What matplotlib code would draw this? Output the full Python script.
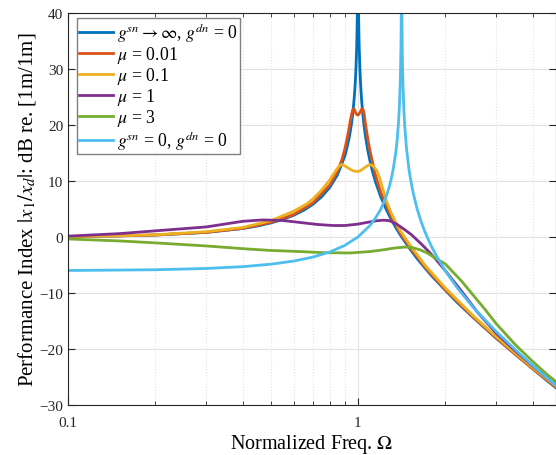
import matplotlib
matplotlib.use('Agg')
import matplotlib.pyplot as plt
from matplotlib.ticker import LogLocator, NullFormatter

plt.rcParams['font.family'] = ['Liberation Serif', 'DejaVu Serif']
plt.rcParams['mathtext.fontset'] = 'stix'

# readings (normalized freq, dB)
w_inf = [0.1, 0.15, 0.2, 0.3, 0.4, 0.45, 0.5, 0.55, 0.6, 0.65, 0.7, 0.75, 0.8, 0.85, 0.9, 0.91,
         0.93, 0.94, 0.95, 0.96, 0.97, 0.975, 0.98, 0.985, 0.99, 0.9925, 0.995, 0.999, 1.001,
         1.005, 1.0075, 1.01, 1.015, 1.02, 1.025, 1.03, 1.04, 1.05, 1.06, 1.08, 1.1, 1.12, 1.15,
         1.2, 1.25, 1.3, 1.35, 1.4, 1.5, 1.6, 1.7, 1.8, 2.0, 2.2, 2.5, 3.0, 3.5, 4.0, 4.5, 5.0]
db_inf = [0.09, 0.2, 0.35, 0.82, 1.51, 1.96, 2.5, 3.13, 3.88, 4.77, 5.85, 7.2, 8.87, 11.1, 14.4, 15.3,
          17.4, 18.7, 20.2, 22.1, 24.6, 26.1, 28.0, 30.5, 34.0, 36.5, 40.0, 54.0, 54.0,
          40.0, 36.4, 33.9, 30.4, 27.9, 25.9, 24.3, 21.8, 19.8, 18.2, 15.6, 13.6, 11.9, 9.8,
          7.1, 5.0, 3.2, 1.7, 0.35, -1.9, -3.86, -5.5, -7.0, -9.5, -11.7, -14.4, -18.1, -21.0,
          -23.5, -25.7, -27.6]

w_001 = [0.1, 0.15, 0.2, 0.3, 0.4, 0.5, 0.6, 0.7, 0.8, 0.85, 0.88, 0.9, 0.92, 0.93, 0.94, 0.945,
         0.95, 0.955, 0.96, 0.965, 0.97, 0.975, 0.98, 0.99, 0.995, 1.0, 1.005, 1.01, 1.02, 1.025,
         1.03, 1.035, 1.04, 1.045, 1.05, 1.055, 1.06, 1.07, 1.085, 1.1, 1.15, 1.2, 1.3, 1.4, 1.5,
         1.7, 2.0, 2.5, 3.0, 3.5, 4.0, 4.5, 5.0]
db_001 = [0.09, 0.2, 0.36, 0.84, 1.55, 2.6, 4.0, 6.1, 9.3, 11.7, 13.8, 15.6, 17.9, 19.2, 20.6, 21.2,
          21.8, 22.3, 22.7, 22.9, 22.85, 22.6, 22.3, 21.9, 21.8, 21.8, 21.85, 22.0, 22.4, 22.6,
          22.85, 22.9, 22.8, 22.5, 22.0, 21.2, 20.4, 19.0, 17.1, 15.4, 11.0, 7.9, 3.8, 0.7, -1.6,
          -5.3, -9.4, -14.3, -18.0, -21.0, -23.5, -25.6, -27.5]

w_01 = [0.1, 0.15, 0.2, 0.3, 0.4, 0.5, 0.6, 0.666, 0.7, 0.75, 0.8, 0.84, 0.86, 0.874, 0.885, 0.9,
        0.92, 0.94, 0.96, 0.99, 1.01, 1.03, 1.05, 1.07, 1.09, 1.106, 1.12, 1.14, 1.16, 1.19, 1.22,
        1.256, 1.3, 1.35, 1.4, 1.5, 1.7, 2.0, 2.5, 3.0, 3.5, 4.0, 4.5, 5.0]
db_01 = [0.1, 0.22, 0.4, 0.95, 1.7, 2.9, 4.6, 5.9, 6.8, 8.4, 10.2, 11.9, 12.6, 12.9, 12.9, 12.7,
         12.4, 12.1, 11.85, 11.7, 11.75, 12.0, 12.3, 12.6, 12.85, 12.9, 12.8, 12.4, 11.9, 10.4, 8.5,
         6.3, 4.4, 2.6, 1.1, -1.2, -5.0, -9.1, -14.1, -17.8, -20.8, -23.3, -25.4, -27.3]

w_1 = [0.1, 0.15, 0.2, 0.3, 0.4, 0.47, 0.55, 0.63, 0.72, 0.82, 0.9, 1.0, 1.1, 1.16, 1.22, 1.27,
       1.3, 1.36, 1.45, 1.53, 1.65, 1.74, 1.85, 2.0, 2.27, 2.59, 3.0, 3.5, 4.0, 4.5, 5.0]
db_1 = [0.15, 0.6, 1.1, 1.8, 2.8, 3.05, 2.95, 2.6, 2.25, 2.05, 2.05, 2.3, 2.7, 2.9, 3.0, 2.95,
        2.8, 2.3, 1.3, 0.4, -1.2, -2.4, -3.9, -6.0, -9.6, -13.5, -17.2, -20.4, -23.0, -25.2, -27.1]

w_3 = [0.1, 0.15, 0.2, 0.3, 0.418, 0.5, 0.631, 0.76, 0.94, 1.1, 1.22, 1.34, 1.45, 1.53, 1.64,
       1.74, 1.85, 2.0, 2.27, 2.75, 3.0, 3.5, 4.0, 4.5, 5.0]
db_3 = [-0.35, -0.7, -1.05, -1.6, -2.15, -2.4, -2.6, -2.8, -2.85, -2.6, -2.3, -1.96, -1.8, -1.85, -2.3,
        -2.9, -3.8, -4.8, -7.8, -13.0, -15.5, -19.3, -22.2, -24.6, -26.5]

w_0 = [0.1, 0.2, 0.3, 0.4, 0.5, 0.6, 0.7, 0.8, 0.9, 1.0, 1.1, 1.15, 1.2, 1.25, 1.28, 1.3, 1.32,
       1.35, 1.365, 1.38, 1.39, 1.4, 1.407, 1.4105, 1.4142, 1.418, 1.422, 1.425, 1.43, 1.44, 1.45,
       1.47, 1.5, 1.52, 1.55, 1.6, 1.65, 1.7, 1.75, 1.8, 1.9, 2.0, 2.2, 2.5, 3.0, 3.5, 4.0, 4.5, 5.0]
db_0 = [-5.98, -5.85, -5.62, -5.3, -4.86, -4.3, -3.58, -2.67, -1.51, 0.0, 2.05, 3.4, 5.0, 7.2, 8.8,
        10.2, 11.8, 15.0, 17.3, 20.4, 23.4, 28.0, 33.8, 39.6, 60.0, 39.4, 33.1, 30.3, 27.0, 22.7,
        19.8, 15.9, 12.0, 10.2, 7.9, 5.0, 2.8, 1.0, -0.5, -1.87, -4.1, -6.02, -9.07, -12.6, -16.9,
        -20.2, -22.9, -25.2, -27.2]

labels = [r'$g^{sn} \rightarrow \infty$, $g^{dn}$ = 0', r'$\mu$ = 0.01', r'$\mu$ = 0.1',
          r'$\mu$ = 1', r'$\mu$ = 3', r'$g^{sn}$ = 0, $g^{dn}$ = 0']
colors = ['#0072BD', '#D95319', '#EDB120', '#7E2F8E', '#77AC30', '#4DBEEE']

fig = plt.figure(figsize=(5.56, 4.56), dpi=100)
ax = fig.add_axes([68/556, 50/456, 488/556, 392/456])

series = [(w_inf, db_inf), (w_001, db_001), (w_01, db_01), (w_1, db_1), (w_3, db_3), (w_0, db_0)]
for (w, db), c, lab in zip(series, colors, labels):
    ax.plot(w, db, color=c, lw=2, label=lab)

ax.set_xscale('log')
ax.set_xlim(0.1, 4.82)
ax.set_ylim(-30, 40)
ax.set_xticks([0.1, 1])
ax.set_xticklabels(['0.1', '1'])
ax.xaxis.set_minor_locator(LogLocator(base=10, subs=range(2, 10)))
ax.xaxis.set_minor_formatter(NullFormatter())
ax.set_yticks(range(-30, 41, 10))

ax.grid(which='major', color='#e3e3e3', lw=0.8)
ax.grid(which='minor', axis='x', color='#e3e3e3', lw=0.8, ls=':')
ax.set_axisbelow(True)
ax.tick_params(which='both', direction='in', top=True, right=True, labelsize=11, colors='#262626')
ax.tick_params(axis='x', which='both', pad=8)
ax.tick_params(which='major', length=5)
ax.tick_params(which='minor', length=3)
for s in ax.spines.values():
    s.set_color('#262626')

ax.set_xlabel(r'Normalized Freq. $\Omega$', fontsize=14.5, labelpad=2)
ax.set_ylabel(r'Performance Index $|x_1/x_d|$: dB re. [1m/1m]', fontsize=15, labelpad=1)

leg = ax.legend(loc='upper left', bbox_to_anchor=(0.018, 0.987), borderaxespad=0, fontsize=12.8,
                fancybox=False, framealpha=1, edgecolor='#808080', handlelength=1.9,
                handletextpad=0.2, labelspacing=0.0, borderpad=0.15)
leg.get_frame().set_linewidth(1)

fig.savefig('out.png', dpi=100)
